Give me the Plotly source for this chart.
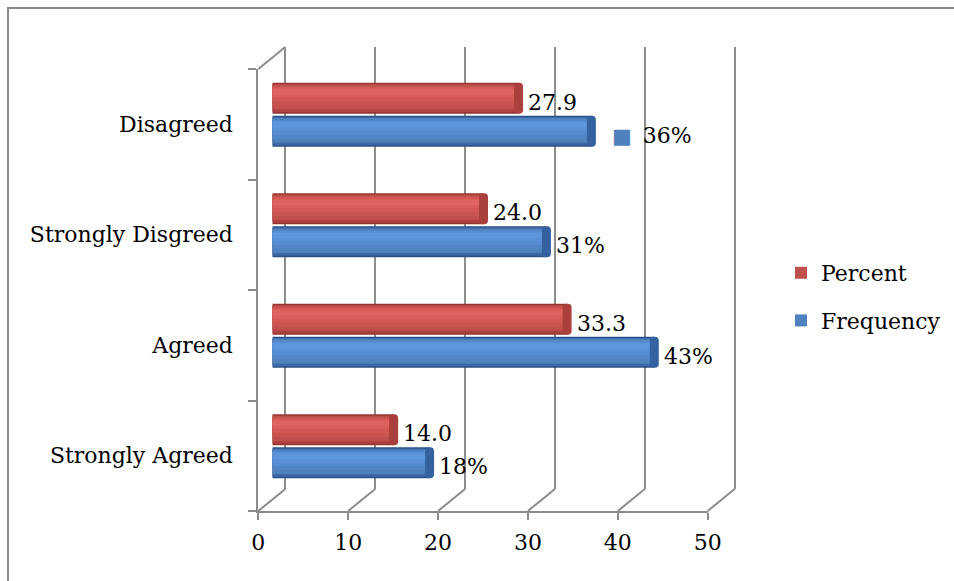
import plotly.graph_objects as go

# ---- data -------------------------------------------------------------
categories = ["Strongly Agreed", "Agreed", "Strongly Disgreed", "Disagreed"]
percent = [14.0, 33.3, 24.0, 27.9]
frequency = [18, 43, 31, 36]
x_ticks = [0, 10, 20, 30, 40, 50]
series_names = ["Percent", "Frequency"]

# ---- geometry (pixels of the 954 x 581 page) ---------------------------
W, H = 954, 581
FONT = dict(family="DejaVu Serif", size=22, color="#000000")
GRID = "#8c8c8c"

front_x0, front_x1 = 258.3, 707.7          # pixel of 0 and 50 on the front axis
front_top, front_bot = 69, 511             # pixel rows of the front plot box
depth_dx, depth_dy = 27, 22                # 3-D depth offset of the back wall
bar_dx, bar_dy = 14, 9.5                   # offset of the bar plane
px_per_unit = (front_x1 - front_x0) / (x_ticks[-1] - x_ticks[0])


def xdom(shift, extra=0.0):
    return [(front_x0 + shift) / W, (front_x1 + shift + extra * px_per_unit) / W]


def ydom(shift):
    return [(H - front_bot + shift) / H, (H - front_top + shift) / H]


idx = list(range(len(categories)))
THICK = 0.28
GAP = 0.01
CAP = 1.0

fig = go.Figure()

# anchors so that the front and back axes are drawn
fig.add_trace(go.Scatter(x=percent, y=categories, mode="none", xaxis="x", yaxis="y",
                         showlegend=False, hoverinfo="skip"))
fig.add_trace(go.Scatter(x=percent, y=[0.5] * len(percent), mode="none", xaxis="x2", yaxis="y2",
                         showlegend=False, hoverinfo="skip"))

# shaded cylinder bars: nested bands from the dark rim to the bright highlight
red_bands = [((0.00, 1.00), "#963733"),
             ((0.05, 0.96), "#b0433f"),
             ((0.14, 0.93), "#c0504d"),
             ((0.26, 0.89), "#c9544f"),
             ((0.40, 0.86), "#d25853"),
             ((0.52, 0.83), "#d95e5a"),
             ((0.62, 0.79), "#de6460")]
blue_bands = [((0.00, 1.00), "#2b5187"),
              ((0.05, 0.96), "#3c69a7"),
              ((0.14, 0.93), "#4f81bd"),
              ((0.26, 0.89), "#5285c6"),
              ((0.40, 0.86), "#568bcf"),
              ((0.52, 0.83), "#5a91d6"),
              ((0.62, 0.79), "#5f97dc")]
LEGEND_BAND = 2


def add_cylinder(values, name, base_off, bands, cap_color, rank):
    body = [v - CAP / 2 for v in values]
    for k, ((f0, f1), color) in enumerate(bands):
        fig.add_trace(go.Bar(
            x=body, y=idx, orientation="h", xaxis="x3", yaxis="y3",
            offset=base_off + f0 * THICK, width=(f1 - f0) * THICK,
            marker=dict(color=color, line=dict(width=0)),
            name=name, showlegend=(k == LEGEND_BAND), legendgroup=name,
            legendrank=rank, hoverinfo="skip"))
    # end face of the cylinder
    fig.add_trace(go.Bar(
        x=[CAP] * len(values), base=[v - CAP for v in values], y=idx,
        orientation="h", xaxis="x3", yaxis="y3",
        offset=base_off, width=THICK,
        marker=dict(color=cap_color, line=dict(width=0), cornerradius=7),
        showlegend=False, legendgroup=name, hoverinfo="skip"))


add_cylinder(percent, series_names[0], GAP, red_bands, "#ab3f3b", 1)
add_cylinder(frequency, series_names[1], -GAP - THICK, blue_bands, "#3462a0", 2)

# value labels
annotations = []
for i, v in zip(idx, percent):
    annotations.append(dict(x=v, y=i + GAP + THICK / 2, xref="x3", yref="y3",
                            text=f"{v:.1f}", showarrow=False, xanchor="left",
                            xshift=3, yshift=-4, font=FONT))
for i, v in zip(idx, frequency):
    label = f"{v:g}%"
    if categories[i] == "Disagreed":
        label = ("<span style='color:#4f81bd;font-size:21px'>\u25a0</span>"
                 "<span style='font-size:12px'> </span> " + label)
        shift = 14
    else:
        shift = 3
    annotations.append(dict(x=v, y=i - GAP - THICK / 2, xref="x3", yref="y3",
                            text=label, showarrow=False, xanchor="left",
                            xshift=shift, yshift=-4, font=FONT))

# 3-D wall edges: floor diagonals at every tick and the top-left corner
span = x_ticks[-1] - x_ticks[0]
edge = dict(type="line", xref="x domain", yref="y domain",
            xsizemode="pixel", ysizemode="pixel",
            x0=0, x1=depth_dx, y0=0, y1=depth_dy,
            line=dict(color=GRID, width=2))
shapes = []
for t in x_ticks:
    shapes.append(dict(edge, xanchor=(t - x_ticks[0]) / span, yanchor=0))
shapes.append(dict(edge, xanchor=0, yanchor=1))
# chart frame
shapes.append(dict(type="rect", xref="paper", yref="paper",
                   x0=8 / W, x1=1.02, y0=-0.02, y1=(H - 8) / H,
                   line=dict(color="#8a8a8a", width=2), layer="below"))

BACK_PAD = 0.2  # keeps the last back gridline inside the axis range

fig.update_layout(
    width=W, height=H,
    margin=dict(l=0, r=0, t=0, b=0, autoexpand=False),
    paper_bgcolor="white", plot_bgcolor="rgba(0,0,0,0)",
    barmode="overlay",
    font=FONT,
    showlegend=True,
    legend=dict(x=781 / W, y=(H - 252) / H, xanchor="left", yanchor="top",
                font=FONT, bgcolor="rgba(0,0,0,0)", tracegroupgap=16,
                traceorder="grouped"),
    xaxis=dict(domain=xdom(0), range=[x_ticks[0], x_ticks[-1]], tickvals=x_ticks,
               anchor="y", showgrid=False, zeroline=False, showline=True,
               linecolor=GRID, linewidth=2, ticks="outside", ticklen=7, tickwidth=2,
               tickcolor=GRID, tickfont=FONT, ticklabelstandoff=4, automargin=False),
    yaxis=dict(domain=ydom(0), type="category", categoryorder="array",
               categoryarray=categories, range=[-0.5, 3.5], anchor="x",
               tickson="boundaries", showgrid=False, zeroline=False, showline=True,
               linecolor=GRID, linewidth=2, ticks="outside", ticklen=8, tickwidth=2,
               tickcolor=GRID, tickfont=FONT, ticklabelstandoff=19, automargin=False),
    xaxis2=dict(domain=xdom(depth_dx, BACK_PAD),
                range=[x_ticks[0], x_ticks[-1] + BACK_PAD], tickvals=x_ticks,
                anchor="y2", showgrid=True, gridcolor=GRID, gridwidth=2,
                zeroline=True, zerolinecolor=GRID, zerolinewidth=2, showline=False,
                showticklabels=False, ticks="", automargin=False),
    yaxis2=dict(domain=ydom(depth_dy), range=[0, 1], anchor="x2",
                showgrid=False, zeroline=False, showticklabels=False, ticks="",
                automargin=False),
    xaxis3=dict(domain=xdom(bar_dx), range=[x_ticks[0], x_ticks[-1]], anchor="y3",
                visible=False),
    yaxis3=dict(domain=ydom(bar_dy), range=[-0.5, 3.5], anchor="x3", visible=False),
    annotations=annotations,
    shapes=shapes,
)

fig.write_html("out.html")
